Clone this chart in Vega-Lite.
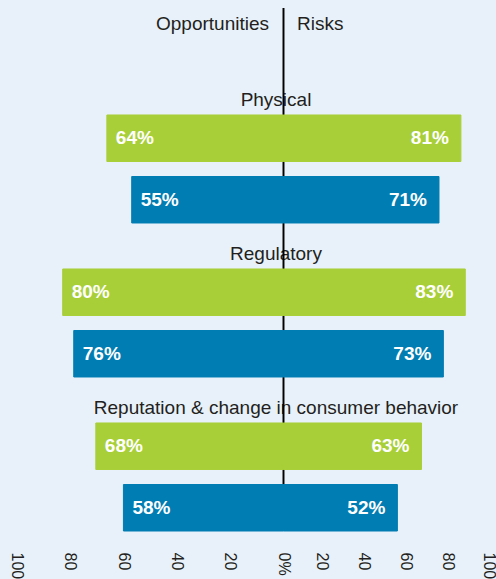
{
  "$schema": "https://vega.github.io/schema/vega-lite/v6.json",
  "width": 496,
  "height": 523,
  "autosize": {"type": "none"},
  "padding": {"top": 8, "left": 0, "right": 0, "bottom": 48},
  "background": "#e8f1f9",
  "config": {"view": {"stroke": null}, "font": "Liberation Sans"},
  "datasets": {
    "bars": [
      {"category": "Physical", "series": "Series 1", "opp": 0.64, "risk": 0.81},
      {"category": "Physical", "series": "Series 2", "opp": 0.55, "risk": 0.71},
      {"category": "Regulatory", "series": "Series 1", "opp": 0.80, "risk": 0.83},
      {"category": "Regulatory", "series": "Series 2", "opp": 0.76, "risk": 0.73},
      {"category": "Reputation & change in consumer behavior", "series": "Series 1", "opp": 0.68, "risk": 0.63},
      {"category": "Reputation & change in consumer behavior", "series": "Series 2", "opp": 0.58, "risk": 0.52}
    ],
    "header": [
      {"label": "Opportunities", "side": "left"},
      {"label": "Risks", "side": "right"}
    ]
  },
  "data": {"name": "bars"},
  "layer": [
    {
      "transform": [{"filter": "datum.series === 'Series 1'"}],
      "mark": {"type": "text", "fontSize": 19, "fill": "#231f20", "baseline": "alphabetic", "align": "center", "dy": -9, "dx": -7.5},
      "encoding": {
        "x": {"datum": 0, "type": "quantitative", "scale": {"domain": [-1.2945, 0.9703], "nice": false, "zero": false}, "axis": null},
        "y": {"field": "category", "type": "nominal", "bandPosition": 0, "scale": {"paddingInner": 0.2987, "paddingOuter": 0.3474, "align": 1}, "axis": null},
        "text": {"field": "category"}
      }
    },
    {
      "mark": {"type": "rule", "stroke": "#000000", "strokeWidth": 1.2},
      "encoding": {
        "x": {"datum": 0, "type": "quantitative", "scale": {"domain": [-1.2945, 0.9703], "nice": false, "zero": false}, "axis": null}
      }
    },
    {
      "mark": {"type": "bar", "strokeWidth": 1},
      "encoding": {
        "x": {"field": "opp", "type": "quantitative", "scale": {"domain": [-0.7699, 1.0272], "reverse": true, "nice": false, "zero": false}, "axis": null},
        "x2": {"datum": 0},
        "y": {"field": "category", "type": "nominal", "scale": {"paddingInner": 0.2987, "paddingOuter": 0.3474, "align": 1}, "axis": null},
        "yOffset": {"field": "series", "type": "nominal", "scale": {"paddingInner": 0.244, "paddingOuter": 0}},
        "color": {"field": "series", "type": "nominal", "scale": {"domain": ["Series 1", "Series 2"], "range": ["#a8cf38", "#007db3"]}, "legend": null},
        "stroke": {"field": "series", "type": "nominal", "scale": {"domain": ["Series 1", "Series 2"], "range": ["#a8cf38", "#007db3"]}, "legend": null}
      }
    },
    {
      "mark": {"type": "bar", "strokeWidth": 1},
      "encoding": {
        "x": {"field": "risk", "type": "quantitative", "scale": {"domain": [-1.2945, 0.9703], "nice": false, "zero": false}, "axis": null},
        "x2": {"datum": 0},
        "y": {"field": "category", "type": "nominal", "scale": {"paddingInner": 0.2987, "paddingOuter": 0.3474, "align": 1}, "axis": null},
        "yOffset": {"field": "series", "type": "nominal", "scale": {"paddingInner": 0.244, "paddingOuter": 0}},
        "color": {"field": "series", "type": "nominal", "scale": {"domain": ["Series 1", "Series 2"], "range": ["#a8cf38", "#007db3"]}, "legend": null},
        "stroke": {"field": "series", "type": "nominal", "scale": {"domain": ["Series 1", "Series 2"], "range": ["#a8cf38", "#007db3"]}, "legend": null}
      }
    },
    {
      "mark": {"type": "text", "align": "left", "baseline": "middle", "dx": 9, "fontSize": 19, "fontWeight": "bold", "fill": "#ffffff"},
      "encoding": {
        "x": {"field": "opp", "type": "quantitative", "scale": {"domain": [-0.7699, 1.0272], "reverse": true, "nice": false, "zero": false}, "axis": null},
        "y": {"field": "category", "type": "nominal", "scale": {"paddingInner": 0.2987, "paddingOuter": 0.3474, "align": 1}, "axis": null},
        "yOffset": {"field": "series", "type": "nominal", "scale": {"paddingInner": 0.244, "paddingOuter": 0}},
        "text": {"field": "opp", "type": "quantitative", "format": ".0%"}
      }
    },
    {
      "mark": {"type": "text", "align": "right", "baseline": "middle", "dx": -12, "fontSize": 19, "fontWeight": "bold", "fill": "#ffffff"},
      "encoding": {
        "x": {"field": "risk", "type": "quantitative", "scale": {"domain": [-1.2945, 0.9703], "nice": false, "zero": false}, "axis": null},
        "y": {"field": "category", "type": "nominal", "scale": {"paddingInner": 0.2987, "paddingOuter": 0.3474, "align": 1}, "axis": null},
        "yOffset": {"field": "series", "type": "nominal", "scale": {"paddingInner": 0.244, "paddingOuter": 0}},
        "text": {"field": "risk", "type": "quantitative", "format": ".0%"}
      }
    },
    {
      "data": {"name": "header"},
      "transform": [{"filter": "datum.side === 'left'"}],
      "mark": {"type": "text", "align": "right", "baseline": "alphabetic", "dx": -14.5, "dy": -85, "fontSize": 19, "fill": "#231f20"},
      "encoding": {
        "x": {"datum": 0, "type": "quantitative", "scale": {"domain": [-1.2945, 0.9703], "nice": false, "zero": false}, "axis": null},
        "y": {"datum": "Physical", "type": "nominal", "bandPosition": 0, "scale": {"paddingInner": 0.2987, "paddingOuter": 0.3474, "align": 1}, "axis": null},
        "text": {"field": "label"}
      }
    },
    {
      "data": {"name": "header"},
      "transform": [{"filter": "datum.side === 'right'"}],
      "mark": {"type": "text", "align": "left", "baseline": "alphabetic", "dx": 13.5, "dy": -85, "fontSize": 19, "fill": "#231f20"},
      "encoding": {
        "x": {"datum": 0, "type": "quantitative", "scale": {"domain": [-1.2945, 0.9703], "nice": false, "zero": false}, "axis": null},
        "y": {"datum": "Physical", "type": "nominal", "bandPosition": 0, "scale": {"paddingInner": 0.2987, "paddingOuter": 0.3474, "align": 1}, "axis": null},
        "text": {"field": "label"}
      }
    },
    {
      "mark": {"type": "point", "opacity": 0},
      "encoding": {
        "x": {
          "field": "opp", "type": "quantitative",
          "scale": {"domain": [-0.7992, 1.0619], "reverse": true, "nice": false, "zero": false},
          "axis": {"orient": "bottom", "values": [0, 0.2, 0.4, 0.6, 0.8, 1], "labelAngle": 90, "labelExpr": "datum.value == 0 ? '0%' : format(datum.value * 100, 'd')", "domain": false, "ticks": false, "tickSize": 0, "grid": false, "labelPadding": 21, "labelFontSize": 16, "labelColor": "#231f20", "labelFont": "Liberation Sans", "title": null, "labelOverlap": false, "labelFlush": false, "labelBound": false}
        }
      }
    },
    {
      "mark": {"type": "point", "opacity": 0},
      "encoding": {
        "x": {
          "field": "risk", "type": "quantitative",
          "scale": {"domain": [-1.3397, 1.0335], "nice": false, "zero": false},
          "axis": {"orient": "bottom", "values": [0.2, 0.4, 0.6, 0.8, 1], "labelAngle": 90, "labelExpr": "format(datum.value * 100, 'd')", "domain": false, "ticks": false, "tickSize": 0, "grid": false, "labelPadding": 21, "labelFontSize": 16, "labelColor": "#231f20", "labelFont": "Liberation Sans", "title": null, "labelOverlap": false, "labelFlush": false, "labelBound": false}
        }
      }
    }
  ],
  "resolve": {"scale": {"x": "independent"}, "axis": {"x": "independent"}}
}
